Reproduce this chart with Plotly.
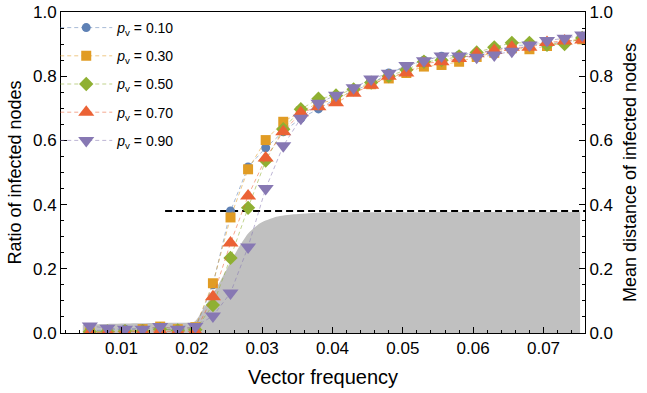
import plotly.graph_objects as go

# ---------------- data ----------------
vector_frequency = [0.0055 + 0.0025 * i for i in range(29)]

labels = ["0.10", "0.30", "0.50", "0.70", "0.90"]

ratio_pv010 = [0.007, 0.010, 0.012, 0.014, 0.012, 0.010, 0.015, 0.150, 0.380, 0.517,
               0.577, 0.627, 0.669, 0.698, 0.730, 0.755, 0.776, 0.810, 0.830, 0.850,
               0.862, 0.866, 0.874, 0.880, 0.895, 0.897, 0.900, 0.907, 0.915]
ratio_pv030 = [0.002, 0.003, 0.005, 0.012, 0.020, 0.012, 0.018, 0.155, 0.360, 0.510,
               0.601, 0.658, 0.690, 0.716, 0.726, 0.757, 0.775, 0.793, 0.810, 0.830,
               0.835, 0.845, 0.860, 0.873, 0.887, 0.884, 0.894, 0.910, 0.915]
ratio_pv050 = [0.004, 0.005, 0.006, 0.006, 0.012, 0.008, 0.010, 0.087, 0.234, 0.390,
               0.537, 0.635, 0.697, 0.730, 0.740, 0.759, 0.780, 0.800, 0.820, 0.845,
               0.850, 0.862, 0.874, 0.890, 0.904, 0.904, 0.898, 0.900, 0.919]
ratio_pv070 = [0.001, 0.002, 0.003, 0.004, 0.006, 0.004, 0.005, 0.113, 0.280, 0.427,
               0.545, 0.627, 0.686, 0.705, 0.717, 0.747, 0.772, 0.800, 0.810, 0.840,
               0.845, 0.855, 0.870, 0.880, 0.890, 0.890, 0.905, 0.910, 0.913]
ratio_pv090 = [0.022, 0.015, 0.012, 0.012, 0.020, 0.012, 0.020, 0.053, 0.125, 0.268,
               0.450, 0.583, 0.669, 0.716, 0.741, 0.764, 0.791, 0.809, 0.833, 0.848,
               0.863, 0.863, 0.859, 0.866, 0.878, 0.897, 0.911, 0.918, 0.928]

distance_x = [0.0045, 0.008, 0.012, 0.016, 0.0204, 0.0215, 0.0235, 0.025, 0.0265,
              0.028, 0.0297, 0.032, 0.0345, 0.038, 0.045, 0.060, 0.0752]
distance_y = [0.025, 0.028, 0.030, 0.032, 0.036, 0.070, 0.140, 0.200, 0.260,
              0.310, 0.342, 0.362, 0.370, 0.375, 0.376, 0.377, 0.377]

threshold_x = [0.0162, 0.0759]
threshold_y = [0.38, 0.38]

# ---------------- styles ----------------
colors = ["#5E81B5", "#E19C24", "#8FB032", "#EB6235", "#8778B3"]
line_colors = ["rgba(94,129,181,0.55)", "rgba(225,156,36,0.55)", "rgba(143,176,50,0.55)",
               "rgba(235,98,53,0.55)", "rgba(135,120,179,0.55)"]
symbols = ["circle", "square", "diamond", "triangle-up", "triangle-down"]
sizes = [9, 10, 11, 14, 14]
series = [ratio_pv010, ratio_pv030, ratio_pv050, ratio_pv070, ratio_pv090]

FONT = "Liberation Sans, Arial, sans-serif"

fig = go.Figure()

fig.add_trace(go.Scatter(
    x=distance_x, y=distance_y, mode="lines", line=dict(width=0, shape="spline", smoothing=0.6),
    fill="tozeroy", fillcolor="#c0c0c0", showlegend=False, hoverinfo="skip"))

fig.add_trace(go.Scatter(
    x=threshold_x, y=threshold_y, mode="lines",
    line=dict(color="black", width=2, dash="7px,4px"), showlegend=False, hoverinfo="skip"))

for i in range(5):
    fig.add_trace(go.Scatter(
        x=vector_frequency, y=series[i], mode="lines+markers",
        name="<i>p</i><sub>v</sub> = " + labels[i],
        legendgroup="g%d" % i,
        line=dict(color=line_colors[i], width=1, dash="4px,3px"),
        marker=dict(symbol=symbols[i], size=sizes[i], color=colors[i], line=dict(width=0))))

# empty trace to activate the right axis
fig.add_trace(go.Scatter(x=[None], y=[None], yaxis="y2", showlegend=False, hoverinfo="skip"))

axis_common = dict(
    showline=True, linecolor="black", linewidth=1, showgrid=False, zeroline=False,
    ticks="inside", ticklen=6, tickwidth=1, tickcolor="black", automargin=False,
    tickfont=dict(family=FONT, size=17, color="black"),
)

fig.update_layout(
    width=647, height=393,
    margin=dict(l=61, r=62, t=12, b=60),
    paper_bgcolor="white", plot_bgcolor="white",
    font=dict(family=FONT, color="black"),
    xaxis=dict(range=[0.0014, 0.0759], dtick=0.01, tick0=0, tickformat=".2f", mirror=True,
               minor=dict(dtick=0.002, ticklen=3, ticks="inside", tickcolor="black"),
               title=dict(text="Vector frequency", font=dict(family=FONT, size=20), standoff=12),
               **axis_common),
    yaxis=dict(range=[0, 1], dtick=0.2, tick0=0, tickformat=".1f",
               minor=dict(dtick=0.05, ticklen=3, ticks="inside", tickcolor="black"),
               title=dict(text="Ratio of infected nodes", font=dict(family=FONT, size=18), standoff=6),
               **axis_common),
    yaxis2=dict(range=[0, 1], dtick=0.2, tick0=0, tickformat=".1f", overlaying="y", side="right",
                minor=dict(dtick=0.05, ticklen=3, ticks="inside", tickcolor="black"),
                title=dict(text="Mean distance of infected nodes", font=dict(family=FONT, size=18), standoff=11),
                **axis_common),
    legend=dict(x=-0.011, y=1.0, xanchor="left", yanchor="top", bgcolor="rgba(0,0,0,0)",
                font=dict(family=FONT, size=14), tracegroupgap=7, itemwidth=52),
    showlegend=True,
)

fig.write_html("out.html", config={"displayModeBar": False},
               post_script="document.body.style.margin='0px';")
